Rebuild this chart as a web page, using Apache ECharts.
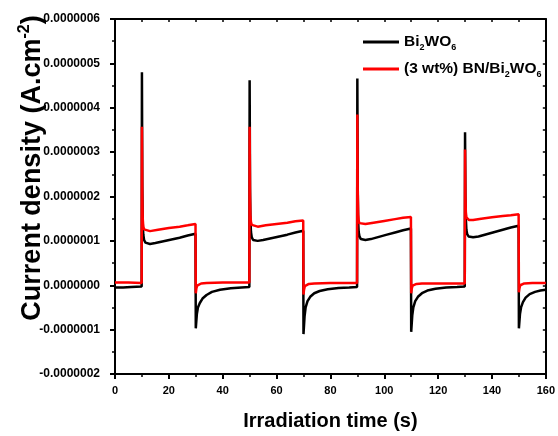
<!DOCTYPE html>
<html>
<head>
<meta charset="utf-8">
<script src="https://cdn.jsdelivr.net/npm/echarts@6/dist/echarts.min.js"></script>
<style>html,body{margin:0;padding:0;background:#fff;}#c{width:558px;height:436px;}</style>
</head>
<body>
<div id="c"></div>
<script>
// values in units of 1e-7 A.cm^-2, time in s
const seriesNames = ['Bi2WO6', '(3 wt%) BN/Bi2WO6'];
const xTicks = [0, 20, 40, 60, 80, 100, 120, 140, 160];
const yTicks = [-2, -1, 0, 1, 2, 3, 4, 5, 6];

const bi2wo6 = [
  [0,-0.05],[3,-0.05],[6,-0.04],[9.9,-0.03],
  [10,4.80],[10.15,2.2],[10.3,1.4],[10.5,1.15],[10.8,1.02],[11.3,0.96],[12,0.93],[13,0.93],[15,0.95],[18,0.99],[21,1.03],[24,1.07],[27,1.12],[29.9,1.16],
  [30,-0.97],[30.4,-0.65],[30.8,-0.5],[31.5,-0.4],[32.5,-0.3],[34,-0.22],[36,-0.15],[39,-0.1],[43,-0.07],[47,-0.05],[49.9,-0.04],
  [50,4.62],[50.15,2.2],[50.3,1.45],[50.5,1.2],[50.8,1.08],[51.3,1.02],[52,1.0],[53,1.0],[55,1.02],[58,1.06],[61,1.1],[64,1.14],[67,1.19],[69.9,1.23],
  [70,-1.1],[70.4,-0.7],[70.8,-0.5],[71.5,-0.36],[72.5,-0.26],[74,-0.18],[76,-0.13],[79,-0.09],[83,-0.06],[87,-0.05],[89.9,-0.04],
  [90,4.66],[90.15,2.2],[90.3,1.45],[90.5,1.2],[90.8,1.1],[91.3,1.04],[92,1.02],[93,1.02],[95,1.04],[98,1.09],[101,1.14],[104,1.19],[107,1.24],[109.9,1.28],
  [110,-1.05],[110.4,-0.68],[110.8,-0.5],[111.5,-0.36],[112.5,-0.26],[114,-0.18],[116,-0.12],[119,-0.08],[123,-0.05],[127,-0.04],[129.9,-0.03],
  [130,3.45],[130.15,2.0],[130.3,1.5],[130.5,1.25],[130.8,1.15],[131.3,1.1],[132,1.08],[133,1.08],[135,1.1],[138,1.15],[141,1.2],[144,1.25],[147,1.3],[149.9,1.34],
  [150,-0.97],[150.4,-0.65],[150.8,-0.5],[151.5,-0.38],[152.5,-0.28],[154,-0.2],[156,-0.15],[158,-0.12],[160,-0.1]
];

const bnBi2wo6 = [
  [0,0.06],[5,0.06],[9.9,0.05],
  [10,3.57],[10.15,2.0],[10.3,1.5],[10.5,1.32],[10.8,1.26],[11.5,1.22],[13,1.22],[16,1.25],[20,1.29],[24,1.32],[27,1.35],[29.9,1.38],
  [30,-0.18],[30.2,-0.08],[30.5,-0.01],[31,0.02],[32,0.04],[34,0.05],[40,0.06],[45,0.06],[49.9,0.06],
  [50,3.57],[50.15,2.0],[50.3,1.55],[50.5,1.42],[50.8,1.36],[51.5,1.32],[53,1.32],[56,1.35],[60,1.38],[64,1.41],[67,1.44],[69.9,1.46],
  [70,-0.21],[70.2,-0.1],[70.5,-0.02],[71,0.02],[72,0.03],[74,0.04],[80,0.05],[89.9,0.05],
  [90,3.85],[90.15,2.1],[90.3,1.6],[90.5,1.45],[90.8,1.4],[91.5,1.37],[93,1.38],[96,1.41],[100,1.45],[104,1.49],[107,1.52],[109.9,1.54],
  [110,-0.18],[110.2,-0.08],[110.5,-0.01],[111,0.02],[112,0.03],[114,0.04],[120,0.04],[129.9,0.04],
  [130,3.06],[130.15,2.0],[130.3,1.65],[130.5,1.53],[130.8,1.49],[131.5,1.47],[133,1.47],[136,1.5],[140,1.53],[144,1.56],[147,1.58],[149.9,1.6],
  [150,-0.16],[150.2,-0.07],[150.5,0.0],[151,0.03],[152,0.04],[155,0.05],[160,0.05]
];

const FONT = '"Liberation Sans", Arial, sans-serif';
const chart = echarts.init(document.getElementById('c'), null, {renderer: 'canvas'});

function legendFmt(name) {
  const parts = name.split('Bi2WO6');
  let out = '';
  parts.forEach((p, i) => {
    if (p) out += '{n|' + p + '}';
    if (i < parts.length - 1) out += '{n|Bi}{s|2}{n|WO}{s|6}';
  });
  return out;
}

const axisLine = {show: true, onZero: false, lineStyle: {color: '#000', width: 2}};

chart.setOption({
  animation: false,
  backgroundColor: '#fff',
  grid: {left: 115, right: 11, top: 19, bottom: 58, containLabel: false},
  legend: {
    orient: 'vertical', left: 363, top: 34, padding: 0, itemWidth: 36, itemHeight: 3, itemGap: 9,
    icon: 'rect',
    data: seriesNames,
    formatter: legendFmt,
    textStyle: {
      color: '#000',
      rich: {
        n: {fontFamily: FONT, fontWeight: 'bold', fontSize: 15.5, lineHeight: 20, color: '#000'},
        s: {fontFamily: FONT, fontWeight: 'bold', fontSize: 9, lineHeight: 10, verticalAlign: 'bottom', color: '#000'}
      }
    }
  },
  xAxis: [{
    type: 'value', position: 'bottom', min: xTicks[0], max: xTicks[xTicks.length - 1], interval: 20,
    name: 'Irradiation time (s)', nameLocation: 'middle', nameGap: 37,
    nameTextStyle: {fontFamily: FONT, fontWeight: 'bold', fontSize: 20, color: '#000'},
    axisLine: axisLine,
    axisTick: {show: true, inside: false, length: 5, lineStyle: {color: '#000', width: 2}},
    minorTick: {show: true, splitNumber: 2, length: 3, lineStyle: {color: '#000', width: 1.5}},
    axisLabel: {fontFamily: FONT, fontWeight: 'bold', fontSize: 11, color: '#000', margin: 11},
    splitLine: {show: false}
  }, {
    type: 'value', position: 'top', min: xTicks[0], max: xTicks[xTicks.length - 1], interval: 10,
    axisLine: axisLine,
    axisTick: {show: true, inside: true, length: 3, lineStyle: {color: '#000', width: 1.5}},
    axisLabel: {show: false}, splitLine: {show: false}
  }],
  yAxis: [{
    type: 'value', position: 'left', min: yTicks[0], max: yTicks[yTicks.length - 1], interval: 1,
    axisLine: axisLine,
    axisTick: {show: true, inside: false, length: 5, lineStyle: {color: '#000', width: 2}},
    minorTick: {show: true, splitNumber: 2, length: 3, lineStyle: {color: '#000', width: 1.5}},
    axisLabel: {fontFamily: FONT, fontWeight: 'bold', fontSize: 12, color: '#000', margin: 15,
      formatter: v => (v * 1e-7).toFixed(7)},
    splitLine: {show: false}
  }, {
    type: 'value', position: 'right', min: yTicks[0], max: yTicks[yTicks.length - 1], interval: 0.5,
    axisLine: axisLine,
    axisTick: {show: true, inside: true, length: 3, lineStyle: {color: '#000', width: 1.5}},
    axisLabel: {show: false}, splitLine: {show: false}
  }],
  graphic: [{
    type: 'text', x: 33, y: 168, rotation: Math.PI / 2,
    style: {
      text: '{a|Current density (A.cm}{s|-2}{a|)}',
      align: 'center', verticalAlign: 'middle',
      rich: {
        a: {fontFamily: FONT, fontWeight: 'bold', fontSize: 27, lineHeight: 32, fill: '#000'},
        s: {fontFamily: FONT, fontWeight: 'bold', fontSize: 16, lineHeight: 16, verticalAlign: 'top', fill: '#000'}
      }
    }
  }],
  series: [{
    name: seriesNames[0], type: 'line', data: bi2wo6, xAxisIndex: 0, yAxisIndex: 0,
    showSymbol: false, symbol: 'none', color: '#000', lineStyle: {color: '#000', width: 2.5}
  }, {
    name: seriesNames[1], type: 'line', data: bnBi2wo6, xAxisIndex: 0, yAxisIndex: 0,
    showSymbol: false, symbol: 'none', color: '#ff0000', lineStyle: {color: '#ff0000', width: 2.5}
  }]
});
</script>
</body>
</html>
